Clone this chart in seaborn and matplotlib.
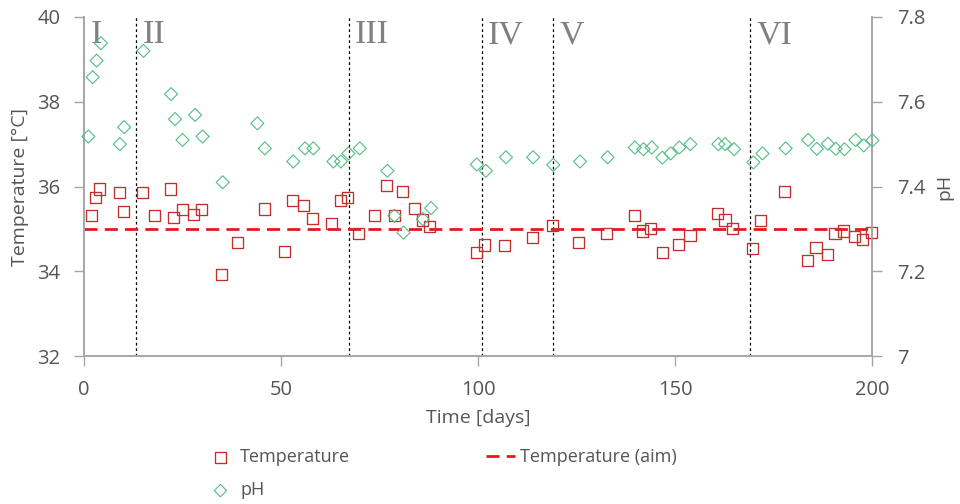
import matplotlib
matplotlib.use("Agg")
import matplotlib.pyplot as plt
import pandas as pd
import seaborn as sns

# Reactor temperature measurements
temp_days = [1.8, 3.0, 3.9, 9.0, 10.0, 14.8, 17.8, 21.9, 22.8, 24.9, 27.9, 29.9,
             34.9, 38.9, 45.8, 50.8, 52.9, 55.8, 57.9, 62.9, 65.0, 66.9, 69.6,
             73.7, 76.8, 78.8, 80.8, 83.8, 85.9, 87.8, 99.6, 101.6, 106.7, 113.8,
             119.0, 125.6, 132.7, 139.8, 141.7, 143.8, 146.8, 150.8, 153.8, 160.7,
             162.7, 164.6, 169.7, 171.7, 177.7, 183.6, 185.8, 188.7, 190.6, 192.7,
             195.6, 197.7, 199.8]
temp_values = [35.31, 35.74, 35.94, 35.85, 35.40, 35.86, 35.31, 35.94, 35.27, 35.45,
               35.33, 35.45, 33.93, 34.68, 35.47, 34.46, 35.66, 35.55, 35.25, 35.13,
               35.66, 35.74, 34.89, 35.31, 36.02, 35.31, 35.88, 35.48, 35.21, 35.05,
               34.45, 34.62, 34.60, 34.80, 35.09, 34.68, 34.89, 35.31, 34.95, 35.01,
               34.45, 34.64, 34.84, 35.37, 35.21, 35.01, 34.54, 35.19, 35.88, 34.25,
               34.55, 34.40, 34.89, 34.95, 34.82, 34.74, 34.92]

# Reactor pH measurements
ph_days = [1.1, 2.2, 3.2, 4.3, 9.1, 10.2, 15.1, 22.1, 23.1, 25.0, 28.2, 30.1, 35.2,
           44.0, 45.9, 53.1, 56.1, 58.2, 63.3, 65.2, 67.1, 70.0, 77.0, 78.8, 81.1,
           86.0, 88.1, 99.7, 102.0, 107.1, 114.0, 119.1, 125.9, 132.9, 139.8, 142.0,
           144.1, 146.8, 148.9, 151.1, 153.9, 161.0, 162.7, 165.0, 169.9, 172.2,
           178.1, 183.8, 186.0, 188.8, 190.8, 193.0, 195.8, 197.9, 200.1]
ph_values = [7.518, 7.658, 7.697, 7.738, 7.500, 7.540, 7.720, 7.618, 7.559, 7.510,
             7.569, 7.518, 7.410, 7.549, 7.490, 7.459, 7.490, 7.490, 7.459, 7.459,
             7.478, 7.490, 7.437, 7.331, 7.291, 7.323, 7.349, 7.452, 7.437, 7.469,
             7.469, 7.451, 7.459, 7.469, 7.492, 7.488, 7.492, 7.468, 7.478, 7.492,
             7.500, 7.500, 7.500, 7.488, 7.457, 7.478, 7.490, 7.510, 7.489, 7.501,
             7.489, 7.488, 7.510, 7.497, 7.509]

# Target temperature over the whole run
aim_days = [0, 200]
aim_temp = [35.0, 35.0]

# Operating phases
phase_starts = [0, 13.3, 67.2, 101.0, 119.0, 169.0]
phase_names = ["I", "II", "III", "IV", "V", "VI"]

day_ticks = [0, 50, 100, 150, 200]
temp_ticks = [32, 34, 36, 38, 40]
ph_ticks = [7.0, 7.2, 7.4, 7.6, 7.8]
ph_tick_labels = ["7", "7.2", "7.4", "7.6", "7.8"]

sns.set_theme(style="white")
plt.rcParams["font.family"] = ["Open Sans", "DejaVu Sans"]

TEXT = "#555555"
AXIS = "#a6a6a6"
RED = "#c42f2d"
AIM = "#e3191c"
GREEN = "#52bd85"
PHASE = "#808080"

temp_df = pd.DataFrame({"day": temp_days, "temp": temp_values})
ph_df = pd.DataFrame({"day": ph_days, "ph": ph_values})
aim_df = pd.DataFrame({"day": aim_days, "temp": aim_temp})

fig = plt.figure(figsize=(9.6, 5.04), dpi=100)
ax = fig.add_axes([84 / 960, 1 - 356 / 504, (872 - 84) / 960, (356 - 17) / 504])
ax2 = ax.twinx()

# Phase boundaries and labels
for start in phase_starts[1:]:
    ax.axvline(start, color="black", lw=0.9, ls=(0, (2.2, 2.2)), zorder=1)
for start, name in zip(phase_starts, phase_names):
    ax.text(start + 1.6, 39.38, name, family="Liberation Serif", fontsize=24.5,
            color=PHASE, ha="left", va="baseline", zorder=2)

sns.lineplot(data=aim_df, x="day", y="temp", ax=ax, color=AIM, lw=2.0,
             dashes=False, label="Temperature (aim)", zorder=3)
ax.lines[-1].set_dashes((4.7, 2.6))

sns.scatterplot(data=temp_df, x="day", y="temp", ax=ax, marker="s", s=64,
                color=RED, facecolor="none", edgecolor=RED, linewidth=0.95,
                label="Temperature", zorder=4, clip_on=False)
sns.scatterplot(data=ph_df, x="day", y="ph", ax=ax2, marker="D", s=44,
                color=GREEN, facecolor="none", edgecolor=GREEN, linewidth=0.8,
                label="pH", zorder=4, clip_on=False)

for a in (ax, ax2):
    if a.get_legend() is not None:
        a.get_legend().remove()

ax.set_xlim(0, 200)
ax.set_ylim(32, 40)
ax2.set_ylim(7.0, 7.8)
ax.set_xticks(day_ticks)
ax.set_yticks(temp_ticks)
ax2.set_yticks(ph_ticks)
ax2.set_yticklabels(ph_tick_labels)

ax.tick_params(axis="x", bottom=True, direction="out", length=7, width=1,
               color=AXIS, labelsize=14.5, labelcolor=TEXT, pad=10)
ax.tick_params(axis="y", left=True, direction="out", length=7, width=1,
               color=AXIS, labelsize=14.5, labelcolor=TEXT, pad=10)
ax2.tick_params(axis="y", right=True, direction="out", length=7, width=1,
                color=AXIS, labelsize=14.5, labelcolor=TEXT, pad=11)

for a in (ax, ax2):
    a.spines["top"].set_visible(False)
    for side in ("left", "right", "bottom"):
        a.spines[side].set_color(AXIS)
        a.spines[side].set_linewidth(1.2)

ax.set_xlabel("Time [days]", fontsize=14, color=TEXT, labelpad=7)
ax.set_ylabel("Temperature [°C]", fontsize=14, color=TEXT, labelpad=6)
ax2.set_ylabel("pH", fontsize=14, color=TEXT, labelpad=7)

h1, l1 = ax.get_legend_handles_labels()
h2, l2 = ax2.get_legend_handles_labels()
handles = dict(zip(l1 + l2, h1 + h2))
order = ["Temperature", "pH", "Temperature (aim)"]
fig.legend([handles[k] for k in order], order, loc="upper left",
           bbox_to_anchor=(206 / 960, 1 - 448 / 504), ncol=2, frameon=False,
           fontsize=13, labelcolor=TEXT, borderpad=0, borderaxespad=0,
           handlelength=1.6, handletextpad=0.3, columnspacing=7.5,
           labelspacing=0.85, markerscale=0.95)

fig.savefig("out.png", dpi=100, facecolor="white")
